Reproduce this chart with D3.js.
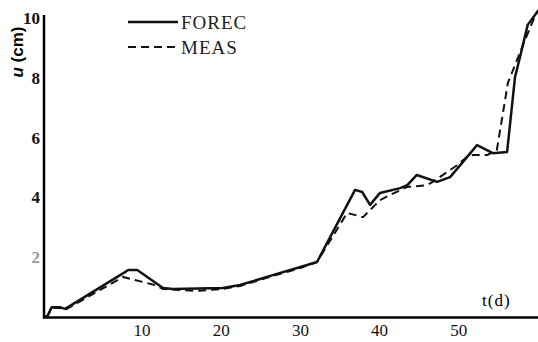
<!DOCTYPE html>
<html>
<head>
<meta charset="utf-8">
<script src="https://cdn.jsdelivr.net/npm/d3@7"></script>
<style>
    body { margin: 0; background: #fff; }
    svg { display: block; font-family: "Liberation Serif", "DejaVu Serif", serif; }
</style>
</head>
<body>
<svg id="chart"></svg>
<script>
const width = 538;
const height = 342;

// forecast (solid) and measured (dashed) settlement, t in days, u in cm
const forecT = [-2.25, -1.9, -1.4, -0.4, 0.3, 7.85, 8.25, 9.4, 12.65, 13.9, 20.2, 22.4, 26.5, 30.0, 32.1,
    36.9, 37.8, 38.8, 40.05, 42.6, 43.5, 44.7, 47.25, 48.9, 50.5, 52.3, 54.3, 56.1, 57.1, 57.7, 58.7, 59.9];
const forecU = [0, 0.05, 0.33, 0.33, 0.27, 1.5, 1.57, 1.57, 0.97, 0.94, 0.97, 1.07, 1.4, 1.67, 1.84,
    4.25, 4.18, 3.75, 4.15, 4.31, 4.41, 4.75, 4.52, 4.68, 5.18, 5.75, 5.48, 5.52, 8.03, 8.66, 9.77, 10.2];

const measT = [-2.25, -1.9, -1.4, -0.4, 0.3, 7.6, 11.6, 12.65, 16.9, 20.2, 22.4, 26.5, 30.0, 32.1,
    35.9, 37.9, 40.05, 41.3, 43.5, 46.0, 46.7, 49.8, 51.0, 51.8, 53.6, 54.8, 56.2, 57.7, 59.4, 60.0];
const measU = [0, 0.05, 0.3, 0.3, 0.24, 1.34, 1.07, 0.94, 0.87, 0.94, 1.04, 1.37, 1.64, 1.84,
    3.48, 3.34, 3.91, 4.08, 4.35, 4.41, 4.52, 5.08, 5.35, 5.42, 5.42, 5.58, 7.83, 8.83, 9.93, 10.27];

const xTicks = [10, 20, 30, 40, 50];
const yTicks = [2, 4, 6, 8, 10];
const legendNames = ["FOREC", "MEAS"];

const svg = d3.select("#chart").attr("width", width).attr("height", height);

const x = d3.scaleLinear().domain([-2.25, 60]).range([45, 538]);
const y = d3.scaleLinear().domain([0, 10]).range([317, 18]);

// axes lines
svg.append("line")
    .attr("x1", 44).attr("x2", 44)
    .attr("y1", 15).attr("y2", 318.5)
    .attr("stroke", "#000").attr("stroke-width", 2.5);
svg.append("line")
    .attr("x1", 43).attr("x2", 538)
    .attr("y1", 317.5).attr("y2", 317.5)
    .attr("stroke", "#000").attr("stroke-width", 2.5);

// x tick labels
svg.append("g")
    .selectAll("text")
    .data(xTicks)
    .join("text")
    .attr("x", (d) => x(d))
    .attr("y", 336)
    .attr("text-anchor", "middle")
    .attr("font-size", 17)
    .attr("fill", "#111")
    .text((d) => d);

// y tick labels
svg.append("g")
    .selectAll("text")
    .data(yTicks)
    .join("text")
    .attr("x", 40)
    .attr("y", (d) => y(d) + 6)
    .attr("text-anchor", "end")
    .attr("font-size", 17)
    .attr("font-weight", "bold")
    .attr("fill", (d) => (d === 2 ? "#999" : "#111"))
    .text((d) => d);

// axis titles
const yTitle = svg.append("text")
    .attr("transform", "translate(23, 52) rotate(-90)")
    .attr("text-anchor", "middle")
    .attr("font-size", 17)
    .attr("font-weight", "bold")
    .attr("font-family", "Liberation Sans, Arial, sans-serif");
yTitle.append("tspan").attr("font-style", "italic").text("u");
yTitle.append("tspan").text(" (cm)");

svg.append("text")
    .attr("x", 482)
    .attr("y", 306)
    .attr("font-size", 17)
    .attr("letter-spacing", 1)
    .text("t(d)");

// lines
const line = d3.line().x((d) => x(d[0])).y((d) => y(d[1]));
const forec = d3.zip(forecT, forecU);
const meas = d3.zip(measT, measU);

svg.append("path")
    .datum(meas)
    .attr("d", line)
    .attr("fill", "none")
    .attr("stroke", "#111")
    .attr("stroke-width", 2)
    .attr("stroke-dasharray", "8,5");

svg.append("path")
    .datum(forec)
    .attr("d", line)
    .attr("fill", "none")
    .attr("stroke", "#111")
    .attr("stroke-width", 2.5)
    .attr("stroke-linejoin", "round");

// legend
const legend = svg.append("g").selectAll("g")
    .data(legendNames)
    .join("g")
    .attr("transform", (d, i) => `translate(128, ${22 + i * 25})`);
legend.append("line")
    .attr("x1", 0).attr("x2", 50)
    .attr("stroke", "#111")
    .attr("stroke-width", (d, i) => (i === 0 ? 2.5 : 2))
    .attr("stroke-dasharray", (d, i) => (i === 0 ? null : "8,5"));
legend.append("text")
    .attr("x", 53)
    .attr("y", 7)
    .attr("font-size", 19)
    .attr("letter-spacing", 1)
    .attr("fill", "#222")
    .text((d) => d);
</script>
</body>
</html>
